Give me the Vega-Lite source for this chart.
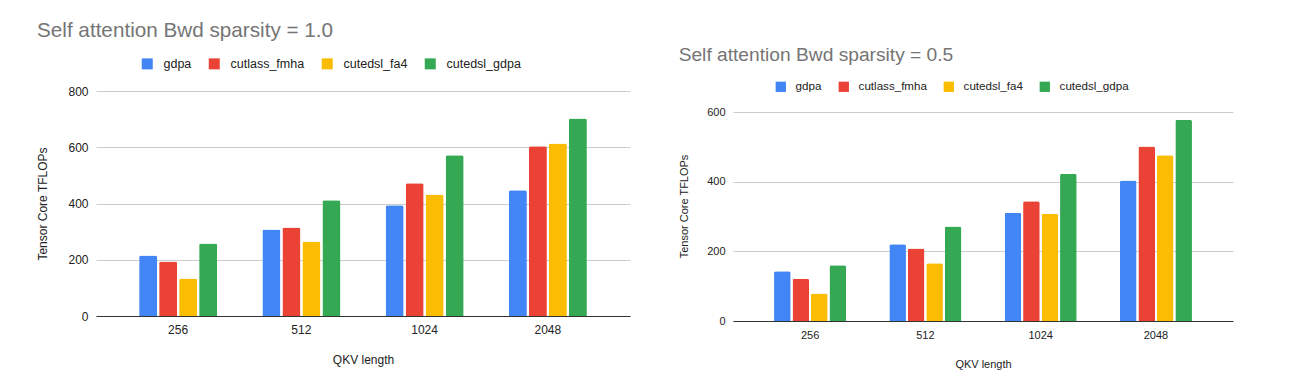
{
  "$schema": "https://vega.github.io/schema/vega-lite/v6.json",
  "background": "white",
  "padding": {"left": 36, "top": 19, "right": 5, "bottom": 12},
  "spacing": 48,
  "datasets": {
    "s10": [
      {"len": "256", "impl": "gdpa", "value": 215},
      {"len": "256", "impl": "cutlass_fmha", "value": 194},
      {"len": "256", "impl": "cutedsl_fa4", "value": 133},
      {"len": "256", "impl": "cutedsl_gdpa", "value": 258},
      {"len": "512", "impl": "gdpa", "value": 308},
      {"len": "512", "impl": "cutlass_fmha", "value": 315},
      {"len": "512", "impl": "cutedsl_fa4", "value": 265},
      {"len": "512", "impl": "cutedsl_gdpa", "value": 412},
      {"len": "1024", "impl": "gdpa", "value": 394},
      {"len": "1024", "impl": "cutlass_fmha", "value": 472},
      {"len": "1024", "impl": "cutedsl_fa4", "value": 432},
      {"len": "1024", "impl": "cutedsl_gdpa", "value": 572},
      {"len": "2048", "impl": "gdpa", "value": 447},
      {"len": "2048", "impl": "cutlass_fmha", "value": 604},
      {"len": "2048", "impl": "cutedsl_fa4", "value": 613},
      {"len": "2048", "impl": "cutedsl_gdpa", "value": 702}
    ],
    "s05": [
      {"len": "256", "impl": "gdpa", "value": 143},
      {"len": "256", "impl": "cutlass_fmha", "value": 121},
      {"len": "256", "impl": "cutedsl_fa4", "value": 79},
      {"len": "256", "impl": "cutedsl_gdpa", "value": 160},
      {"len": "512", "impl": "gdpa", "value": 220},
      {"len": "512", "impl": "cutlass_fmha", "value": 208},
      {"len": "512", "impl": "cutedsl_fa4", "value": 166},
      {"len": "512", "impl": "cutedsl_gdpa", "value": 271},
      {"len": "1024", "impl": "gdpa", "value": 311},
      {"len": "1024", "impl": "cutlass_fmha", "value": 344},
      {"len": "1024", "impl": "cutedsl_fa4", "value": 308},
      {"len": "1024", "impl": "cutedsl_gdpa", "value": 423},
      {"len": "2048", "impl": "gdpa", "value": 403},
      {"len": "2048", "impl": "cutlass_fmha", "value": 501},
      {"len": "2048", "impl": "cutedsl_fa4", "value": 476},
      {"len": "2048", "impl": "cutedsl_gdpa", "value": 578}
    ]
  },
  "hconcat": [
    {
      "width": 534,
      "height": 225,
      "title": {"text": "Self attention Bwd sparsity = 1.0", "anchor": "start", "frame": "bounds", "fontSize": 20.7, "fontWeight": "normal", "color": "#757575", "offset": 16},
      "data": {"name": "s10"},
      "mark": {"type": "bar", "cornerRadiusTopLeft": 2, "cornerRadiusTopRight": 2},
      "encoding": {
        "x": {"field": "len", "type": "nominal", "sort": ["256", "512", "1024", "2048"],
          "scale": {"paddingInner": 0.367, "paddingOuter": 0.35},
          "axis": {"title": "QKV length", "labelAngle": 0, "labelFontSize": 12, "labelColor": "#222", "labelPadding": 8, "ticks": false, "domainColor": "#333", "domainWidth": 1.2, "grid": false, "zindex": 1, "titleFontSize": 12, "titleFontWeight": "normal", "titleColor": "#222", "titlePadding": 19}},
        "xOffset": {"field": "impl", "type": "nominal", "sort": ["gdpa", "cutlass_fmha", "cutedsl_fa4", "cutedsl_gdpa"], "scale": {"paddingInner": 0.1}},
        "y": {"field": "value", "type": "quantitative", "scale": {"domain": [0, 800]},
          "axis": {"values": [0, 200, 400, 600, 800], "title": "Tensor Core TFLOPs", "domain": false, "ticks": false, "gridColor": "#cccccc", "labelFontSize": 12, "labelColor": "#222", "labelPadding": 8, "titleFontSize": 12, "titleFontWeight": "normal", "titleColor": "#222", "titlePadding": 18}},
        "color": {"field": "impl", "type": "nominal",
          "scale": {"domain": ["gdpa", "cutlass_fmha", "cutedsl_fa4", "cutedsl_gdpa"], "range": ["#4285F4", "#EA4335", "#FBBC04", "#34A853"]},
          "legend": {"orient": "none", "legendX": 45, "legendY": -33.5, "direction": "horizontal", "title": null, "symbolType": "square", "symbolSize": 121, "symbolStrokeWidth": 0, "symbolOpacity": 1, "labelFontSize": 12.5, "labelColor": "#222", "labelOffset": 10, "columnPadding": 16, "padding": 0}}
      }
    },
    {
      "width": 500,
      "height": 230,
      "title": {"text": "Self attention Bwd sparsity = 0.5", "anchor": "start", "frame": "bounds", "fontSize": 19.2, "fontWeight": "normal", "color": "#757575", "offset": 16},
      "data": {"name": "s05"},
      "mark": {"type": "bar", "cornerRadiusTopLeft": 2, "cornerRadiusTopRight": 2},
      "encoding": {
        "x": {"field": "len", "type": "nominal", "sort": ["256", "512", "1024", "2048"],
          "scale": {"paddingInner": 0.375, "paddingOuter": 0.356},
          "axis": {"title": "QKV length", "labelAngle": 0, "labelFontSize": 11, "labelColor": "#222", "labelPadding": 8, "ticks": false, "domainColor": "#333", "domainWidth": 1.2, "grid": false, "zindex": 1, "titleFontSize": 11, "titleFontWeight": "normal", "titleColor": "#222", "titlePadding": 18}},
        "xOffset": {"field": "impl", "type": "nominal", "sort": ["gdpa", "cutlass_fmha", "cutedsl_fa4", "cutedsl_gdpa"], "scale": {"paddingInner": 0.1}},
        "y": {"field": "value", "type": "quantitative", "scale": {"domain": [0, 660.3]},
          "axis": {"values": [0, 200, 400, 600], "title": "Tensor Core TFLOPs", "domain": false, "ticks": false, "gridColor": "#cccccc", "labelFontSize": 11, "labelColor": "#222", "labelPadding": 8, "titleFontSize": 11, "titleFontWeight": "normal", "titleColor": "#222", "titlePadding": 17}},
        "color": {"field": "impl", "type": "nominal",
          "scale": {"domain": ["gdpa", "cutlass_fmha", "cutedsl_fa4", "cutedsl_gdpa"], "range": ["#4285F4", "#EA4335", "#FBBC04", "#34A853"]},
          "legend": {"orient": "none", "legendX": 42, "legendY": -10.3, "direction": "horizontal", "title": null, "symbolType": "square", "symbolSize": 106, "symbolStrokeWidth": 0, "symbolOpacity": 1, "labelFontSize": 11.6, "labelColor": "#222", "labelOffset": 9, "columnPadding": 16, "padding": 0}}
      }
    }
  ],
  "resolve": {"scale": {"color": "independent", "x": "independent", "y": "independent", "xOffset": "independent"}, "legend": {"color": "independent"}},
  "config": {
    "font": "Liberation Sans",
    "view": {"stroke": null}
  }
}
